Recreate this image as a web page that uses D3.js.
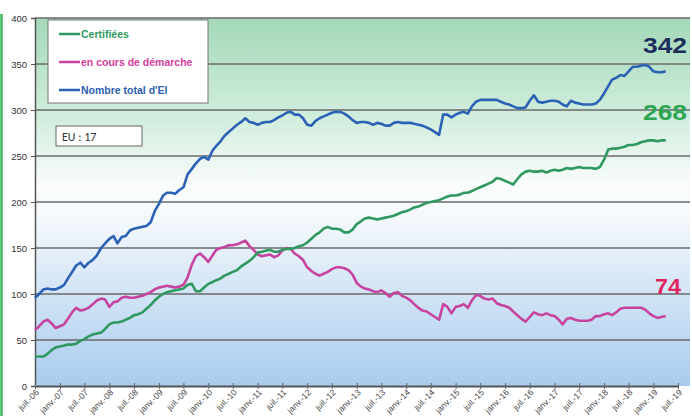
<!DOCTYPE html>
<html><head><meta charset="utf-8">
<script src="https://cdn.jsdelivr.net/npm/d3@7"></script>
<style>html,body{margin:0;padding:0;background:#fff;}svg{display:block;}</style>
</head><body>
<svg id="c" width="692" height="416"></svg>
<script>
// ---- data (monthly, from juil. 2006) ----
const startYear = 2006, startMonth = 6; // July (0-based)
const total = [96,100,105,106,105,105,107,110,117,124,131,134,129,134,137,142,150,155,160,163,155,162,163,169,171,172,
173,174,178,190,198,207,210,210,209,213,216,230,236,242,247,249,246,256,261,266,272,276,280,284,287,291,287,286,284,286,287,287,
289,292,294,297,298,295,295,291,284,283,288,291,293,295,297,298,298,296,293,289,286,287,287,286,284,286,285,283,283,286,287,
286,286,286,285,284,283,281,279,276,273,295,295,292,295,297,298,296,304,309,311,311,311,311,311,309,307,306,304,302,302,303,310,
316,309,308,309,310,310,309,306,304,310,308,307,306,306,306,307,311,318,326,333,335,338,337,342,347,347,348,349,347,342,341,341,342];
const certified = [32,32,32,35,39,42,43,44,45,45,46,49,51,54,56,57,58,62,67,69,69,70,72,74,77,78,
80,84,88,93,97,100,102,103,104,105,106,110,111,103,103,107,111,113,115,117,120,122,124,126,130,133,136,140,145,146,147,148,
146,146,148,149,149,150,152,153,156,160,164,167,171,173,171,171,170,167,167,170,176,179,182,183,182,181,182,183,184,185,187,
189,190,192,194,195,197,199,200,201,202,204,206,207,207,208,210,210,212,214,216,218,220,222,226,225,223,221,219,225,230,233,234,
233,233,234,232,234,235,234,235,237,236,237,238,237,237,237,236,238,246,257,258,258,259,260,262,262,263,265,266,267,267,266,267,267];
const inProgress = [61,65,70,72,68,63,65,67,73,80,85,82,83,85,89,93,95,94,86,91,92,96,97,96,96,97,
98,100,102,105,107,108,109,108,107,108,110,118,132,141,144,140,135,142,148,150,151,153,153,154,156,158,152,148,143,141,142,143,
140,142,147,150,149,144,141,137,129,125,122,120,122,124,127,129,129,128,126,121,112,108,106,105,103,102,104,101,97,101,102,
98,96,93,89,85,82,81,78,75,72,89,86,79,86,87,89,85,93,99,98,95,94,95,90,88,87,85,81,77,73,70,75,
80,78,77,79,77,76,72,67,73,74,72,71,71,71,72,76,76,78,79,77,80,84,85,85,85,85,85,83,79,76,74,75,76];
const seriesNames = ["Certifiées","en cours de démarche","Nombre total d'EI"];
const endLabels = ["342","268","74"];
const yTicks = [0,50,100,150,200,250,300,350,400];
const xTickLabels = ["juil.-06","janv.-07","juil.-07","janv.-08","juil.-08","janv.-09","juil.-09","janv.-10","juil.-10",
"janv.-11","juil.-11","janv.-12","juil.-12","janv.-13","juil.-13","janv.-14","juil.-14","janv.-15","juil.-15","janv.-16",
"juil.-16","janv.-17","juil.-17","janv.-18","juil.-18","janv.-19","juil.-19"];
const boxText = "EU : 17";

// ---- layout ----
const svg = d3.select("#c");
const L = 35, R = 690, T = 18, B = 386;
const xEnd = 678; // juil.-19
const x = d3.scaleTime().domain([new Date(2006,6,1), new Date(2019,6,1)]).range([L, xEnd]);
const y = d3.scaleLinear().domain([0,400]).range([B, T]);
const dateOf = i => new Date(startYear, startMonth + i, 1);

// left green border
svg.append("line").attr("x1",1.5).attr("x2",1.5).attr("y1",14).attr("y2",416)
  .attr("stroke","#3cb65a").attr("stroke-width",2.5);

// background gradient
const defs = svg.append("defs");
const g = defs.append("linearGradient").attr("id","bg").attr("x1",0).attr("x2",0).attr("y1",0).attr("y2",1);
[[0,"#a3d8b8"],[0.28,"#d3eedf"],[0.46,"#fbfdfc"],[0.55,"#f3f8fc"],[0.75,"#d2e4f5"],[1,"#a8ccee"]]
  .forEach(([o,c]) => g.append("stop").attr("offset",o).attr("stop-color",c));
svg.append("rect").attr("x",L).attr("y",T).attr("width",R-L).attr("height",B-T).attr("fill","url(#bg)");

// grid lines
svg.append("g").selectAll("line").data(yTicks.filter(d=>d>0)).join("line")
  .attr("x1",L).attr("x2",R).attr("y1",d=>y(d)).attr("y2",d=>y(d))
  .attr("stroke","#6a6a6a").attr("stroke-width",1.3);

// y axis
const yAxis = svg.append("g").attr("transform",`translate(${L},0)`)
  .call(d3.axisLeft(y).tickValues(yTicks).tickSize(4).tickPadding(4).tickFormat(d3.format("d")));
yAxis.select(".domain").attr("stroke","#555").attr("stroke-width",1.5);
yAxis.selectAll(".tick line").attr("stroke","#555");
yAxis.selectAll("text").attr("font-family","Liberation Sans, Arial, sans-serif").attr("font-size",9.5).attr("fill","#333");

// x axis
const xTickDates = xTickLabels.map((d,i) => new Date(2006, 6 + 6*i, 1));
const xAxis = svg.append("g").attr("transform",`translate(0,${B})`)
  .call(d3.axisBottom(x).tickValues(xTickDates).tickSizeInner(3).tickSizeOuter(0).tickFormat((d,i)=>xTickLabels[i]));
xAxis.select(".domain").attr("stroke","#555").attr("stroke-width",1.8);
xAxis.selectAll(".tick line").attr("stroke","#666").attr("y1",-3);
xAxis.selectAll("text").attr("font-family","Liberation Sans, Arial, sans-serif").attr("font-size",8.5).attr("fill","#444")
  .attr("text-anchor","end").attr("dy",0).attr("y",0)
  .attr("transform","translate(4,7) rotate(-45)");

// lines
const colors = {cert:"#2f9960", prog:"#c6449f", tot:"#2b62b5"};
const line = d3.line().x((d,i)=>x(dateOf(i))).y(d=>y(d));
[[inProgress,colors.prog],[certified,colors.cert],[total,colors.tot]].forEach(([data,col])=>{
  svg.append("path").datum(data).attr("d",line).attr("fill","none").attr("stroke",col)
    .attr("stroke-width",2.6).attr("stroke-linejoin","round");
});

// legend
const lg = svg.append("g");
lg.append("rect").attr("x",48).attr("y",20).attr("width",160).attr("height",83)
  .attr("fill","#fff").attr("stroke","#777").attr("stroke-width",1);
const legCols = [colors.cert, "#d63c9e", "#2b5fb3"];
seriesNames.forEach((n,i)=>{
  const yy = 34 + i*28;
  lg.append("line").attr("x1",59).attr("x2",80).attr("y1",yy).attr("y2",yy)
    .attr("stroke",[colors.cert,colors.prog,colors.tot][i]).attr("stroke-width",2.5);
  lg.append("text").attr("x",81).attr("y",yy+3.5).text(n)
    .attr("font-family","Liberation Sans, Arial, sans-serif").attr("font-weight","bold")
    .attr("font-size",10.5).attr("fill",legCols[i]);
});

// EU box
svg.append("rect").attr("x",56).attr("y",126).attr("width",86).attr("height",20)
  .attr("fill","#fff").attr("stroke","#666").attr("stroke-width",1);
svg.append("text").attr("x",62).attr("y",140.5).text(boxText)
  .attr("font-family","Carlito, Liberation Sans, Arial, sans-serif").attr("font-size",12).attr("fill","#333");

// end labels
const endCols = ["#1c2d5c","#2da552","#e0245f"];
const endVals = [total[total.length-1], certified[certified.length-1], inProgress[inProgress.length-1]];
const endOff = [18, 20, 22];
endLabels.forEach((t,i)=>{
  svg.append("text").attr("x", i==2 ? 655 : 643).attr("y", y(endVals[i]) - endOff[i])
    .text(t).attr("font-family","Liberation Sans, Arial, sans-serif").attr("font-weight","bold")
    .attr("font-size",22).attr("fill",endCols[i])
    .attr("textLength", i==2 ? 26 : 44).attr("lengthAdjust","spacingAndGlyphs");
});
</script>
</body></html>
